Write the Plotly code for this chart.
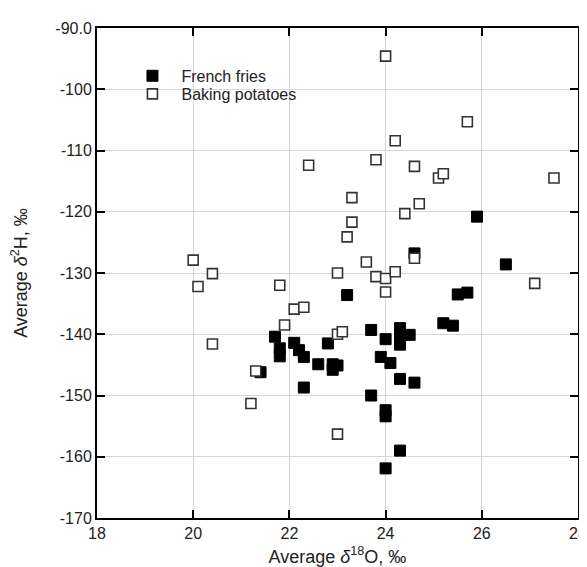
import plotly.graph_objects as go

# French fries (filled squares)
fries_o18 = [25.9, 24.6, 26.5, 23.2, 25.5, 25.7, 25.2, 25.4, 23.7, 24.3, 24.3, 24.5,
             24.3, 24.0, 21.7, 21.8, 21.8, 22.1, 22.2, 22.3, 22.8, 21.4, 22.6, 22.9,
             22.9, 23.0, 23.9, 24.1, 24.3, 24.6, 22.3, 23.7, 24.0, 24.0, 24.3, 24.0]
fries_h2 = [-120.8, -126.8, -128.6, -133.6, -133.5, -133.2, -138.2, -138.6, -139.3, -139.0, -140.5, -140.1,
            -141.7, -140.8, -140.4, -142.3, -143.6, -141.4, -142.6, -143.7, -141.5, -146.2, -144.9, -144.9,
            -145.8, -145.1, -143.7, -144.7, -147.3, -147.9, -148.7, -150.0, -152.4, -153.4, -159.0, -161.9]

# Baking potatoes (open squares)
bake_o18 = [24.0, 25.7, 24.2, 22.4, 23.8, 24.6, 25.1, 25.2, 27.5, 23.3, 24.7, 24.4,
            23.3, 23.2, 20.0, 24.6, 23.6, 20.4, 23.0, 23.8, 24.0, 24.2, 27.1, 20.1,
            21.8, 24.0, 22.1, 22.3, 21.9, 23.0, 23.1, 20.4, 21.3, 21.2, 23.0]
bake_h2 = [-94.6, -105.3, -108.4, -112.4, -111.5, -112.6, -114.5, -113.8, -114.5, -117.7, -118.7, -120.3,
           -121.7, -124.1, -127.9, -127.6, -128.2, -130.1, -130.0, -130.6, -130.9, -129.8, -131.7, -132.2,
           -132.0, -133.1, -135.9, -135.6, -138.5, -140.0, -139.6, -141.6, -146.0, -151.3, -156.3]

x_ticks = [18, 20, 22, 24, 26, 28]
y_ticks = [-90, -100, -110, -120, -130, -140, -150, -160, -170]
y_ticktext = ["-90.0", "-100", "-110", "-120", "-130", "-140", "-150", "-160", "-170"]

font_family = "Liberation Sans, Arial, sans-serif"

fig = go.Figure()
fig.add_trace(go.Scatter(
    x=fries_o18, y=fries_h2, mode="markers", name="French fries", legend="legend",
    marker=dict(symbol="square", size=11, color="black", line=dict(color="black", width=1)),
))
fig.add_trace(go.Scatter(
    x=bake_o18, y=bake_h2, mode="markers", name="Baking potatoes", legend="legend2",
    marker=dict(symbol="square", size=10, color="white", line=dict(color="#333333", width=1.6)),
))

axis_common = dict(
    showline=True, linecolor="black", linewidth=2, mirror="ticks",
    ticks="inside", ticklen=8, tickwidth=2, tickcolor="black",
    showgrid=True, gridcolor="#d6d6d6", gridwidth=1, zeroline=False,
    tickfont=dict(family=font_family, size=16, color="#222"),
)

legend_common = dict(
    xanchor="left", yanchor="top", bgcolor="rgba(255,255,255,0)",
    font=dict(size=16, family=font_family, color="#222"), itemwidth=48,
)

fig.update_layout(
    width=587, height=567,
    margin=dict(l=89, r=8, t=20, b=57),
    paper_bgcolor="white", plot_bgcolor="white",
    font=dict(family=font_family, size=16, color="#222"),
    xaxis=dict(range=[18, 28], tickvals=x_ticks,
               title=dict(text="Average <i>δ</i><sup>18</sup>O, ‰", font=dict(size=18), standoff=9),
               **axis_common),
    yaxis=dict(range=[-170, -90], tickvals=y_ticks, ticktext=y_ticktext,
               title=dict(text="Average <i>δ</i><sup>2</sup>H, ‰", font=dict(size=18), standoff=24),
               **axis_common),
    legend=dict(x=0.055, y=0.937, **legend_common),
    legend2=dict(x=0.055, y=0.900, **legend_common),
    showlegend=True,
)

fig.write_html("out.html")
